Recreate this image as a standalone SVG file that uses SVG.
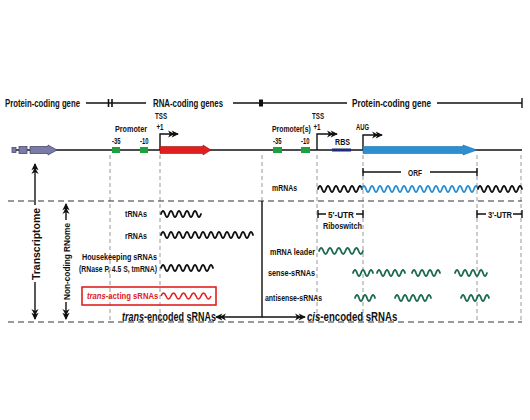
<svg xmlns="http://www.w3.org/2000/svg" width="530" height="420" viewBox="0 0 530 420">
<style>
text{font-family:"Liberation Sans Narrow","Liberation Sans",Arial,sans-serif;font-weight:bold;fill:#111}
.s{font-size:9.5px}
.t{font-size:8.5px}
.h{font-size:10.5px}
.b{font-size:12.5px}
.v{font-size:11.5px}
.ln{stroke:#111;stroke-width:1.4;fill:none}
.dv{stroke:#999;stroke-width:1;stroke-dasharray:4,3;fill:none}
.dh{stroke:#333;stroke-width:1;stroke-dasharray:6,4;fill:none}
.w{fill:none;stroke:#111;stroke-width:1.8;stroke-linecap:round}
.wb{fill:none;stroke:#2b8fd0;stroke-width:1.8}
.wg{fill:none;stroke:#1d6b4f;stroke-width:1.8;stroke-linecap:round}
.wr{fill:none;stroke:#e02020;stroke-width:1.6}
.pr{fill:#1fa040}
</style>
<defs>
<marker id="a2" viewBox="0 0 12 10" refX="11" refY="5" markerWidth="11" markerHeight="9" markerUnits="userSpaceOnUse" orient="auto-start-reverse"><path d="M0,1 L7,5 L0,9 L2,5z M4,1 L12,5 L4,9 L6,5z" fill="#111"/></marker>
</defs>

<g id="gene-level">
<text class="h" x="5" y="107" textLength="75" lengthAdjust="spacingAndGlyphs">Protein-coding gene</text>
<path class="ln" d="M86,103 H146"/>
<path d="M108.5,99 V107 M112,99 V107" stroke="#111" stroke-width="1.6"/>
<text class="h" x="153" y="107" textLength="70" lengthAdjust="spacingAndGlyphs">RNA-coding genes</text>
<path class="ln" d="M233,103 H347"/>
<rect x="259" y="99.5" width="4" height="7" fill="#111"/>
<text class="h" x="352" y="107" textLength="79" lengthAdjust="spacingAndGlyphs">Protein-coding gene</text>
<path class="ln" d="M437,103 H522 M522,98 V108"/>
</g>

<g id="guides">
<path class="dv" d="M110,155 V322 M160,155 V322 M262,155 V201 M317,155 V322 M363,155 V322 M477,155 V322 M521,155 V322"/>
<path class="dh" d="M8,201 H522 M8,322 H522"/>
</g>

<g id="dna">
<path class="ln" d="M12,150 H522"/>
<rect x="12" y="147.5" width="4" height="5" fill="#7b7ba8" stroke="#4a4a70" stroke-width="0.8"/>
<rect x="19" y="146.5" width="8" height="7" fill="#7b7ba8" stroke="#4a4a70" stroke-width="0.8"/>
<path d="M30,146.5 H48 V145 L57,150 L48,155 V153.5 H30z" fill="#7b7ba8" stroke="#4a4a70" stroke-width="0.8"/>
</g>

<g id="rna-gene">
<text class="s" x="115" y="132" textLength="32" lengthAdjust="spacingAndGlyphs">Promoter</text>
<text class="s" x="112" y="144" textLength="8.5" lengthAdjust="spacingAndGlyphs">-35</text>
<text class="s" x="140" y="144" textLength="8.5" lengthAdjust="spacingAndGlyphs">-10</text>
<rect class="pr" x="112" y="147" width="8" height="6"/>
<rect class="pr" x="140" y="147" width="8" height="6"/>
<text class="t" x="155" y="119" textLength="12" lengthAdjust="spacingAndGlyphs">TSS</text>
<text class="t" x="156.5" y="129.5" textLength="7" lengthAdjust="spacingAndGlyphs">+1</text>
<path class="ln" d="M160,150 V134 H178" stroke-width="1.6" marker-end="url(#a2)"/>
<path d="M160,146.5 H203 V145 L211,150 L203,155 V153.5 H160z" fill="#e02020" stroke="#a01010" stroke-width="0.6"/>
</g>

<g id="protein-gene">
<text class="s" transform="translate(272,132) scale(0.72,1)">Promoter(s)</text>
<text class="t" x="313.5" y="129.5" textLength="7" lengthAdjust="spacingAndGlyphs">+1</text>
<text class="t" x="312" y="118.5" textLength="12" lengthAdjust="spacingAndGlyphs">TSS</text>
<text class="s" x="273" y="144" textLength="8.5" lengthAdjust="spacingAndGlyphs">-35</text>
<text class="s" x="301" y="144" textLength="8.5" lengthAdjust="spacingAndGlyphs">-10</text>
<rect class="pr" x="273" y="147" width="9" height="6"/>
<rect class="pr" x="301" y="147" width="9" height="6"/>
<path class="ln" d="M317,150 V134 H337" stroke-width="1.6" marker-end="url(#a2)"/>
<text class="s" x="335" y="145" textLength="15" lengthAdjust="spacingAndGlyphs">RBS</text>
<rect x="332" y="148.5" width="19" height="3" fill="#1b2a7a"/>
<text class="s" x="356" y="130" textLength="13" lengthAdjust="spacingAndGlyphs">AUG</text>
<path class="ln" d="M363,150 V135 H382" stroke-width="1.6" marker-end="url(#a2)"/>
<path d="M363,146.5 H463 V145 L477,150 L463,155 V153.5 H363z" fill="#2b8fd0" stroke="#1d6fa8" stroke-width="0.6"/>
<path class="ln" d="M363,172 H401 M430,172 H477 M363,168 V176 M477,168 V176"/>
<text class="s" x="408" y="175.5" textLength="14" lengthAdjust="spacingAndGlyphs">ORF</text>
</g>

<g id="mrna">
<text class="s" x="272" y="191" textLength="25" lengthAdjust="spacingAndGlyphs">mRNAs</text>
<path class="w" d="M318,189 q2,-6 4,0 t4,0 t4,0 t4,0 t4,0 t4,0 t4,0 t4,0 t4,0 t4,0 t4,0"/>
<path class="wb" d="M362,189 q2,-6 4,0 t4,0 t4,0 t4,0 t4,0 t4,0 t4,0 t4,0 t4,0 t4,0 t4,0 t4,0 t4,0 t4,0 t4,0 t4,0 t4,0 t4,0 t4,0 t4,0 t4,0 t4,0 t4,0 t4,0 t4,0 t4,0 t4,0 t4,0 t4,0"/>
<path class="w" d="M478,189 q2,-6 4,0 t4,0 t4,0 t4,0 t4,0 t4,0 t4,0 t4,0 t4,0 t4,0 t4,0"/>
</g>

<g id="utr">
<path class="ln" d="M318,214 H326 M356,214 H363 M318,210 V218 M363,210 V218"/>
<text class="s" x="328" y="217.5" textLength="26" lengthAdjust="spacingAndGlyphs">5'-UTR</text>
<text class="s" x="323" y="229" textLength="39" lengthAdjust="spacingAndGlyphs">Riboswitch</text>
<path class="ln" d="M477,214 H486 M513,214 H522 M477,210 V218 M522,210 V218"/>
<text class="s" x="488" y="217.5" textLength="24" lengthAdjust="spacingAndGlyphs">3'-UTR</text>
</g>

<g id="cis-rows">
<text class="s" x="270" y="255" textLength="45" lengthAdjust="spacingAndGlyphs">mRNA leader</text>
<path class="wg" d="M319,251 q2.2,-6 4.4,0 t4.4,0 t4.4,0 t4.4,0 t4.4,0 t4.4,0 t4.4,0 t4.4,0 t4.4,0 t4.4,0"/>
<text class="s" x="268" y="276" textLength="47" lengthAdjust="spacingAndGlyphs">sense-sRNAs</text>
<path class="wg" d="M353,273 q2,-6 4,0 t4,0 t4,0 t4,0 t4,0 M377,273 q2,-6 4,0 t4,0 t4,0 t4,0 t4,0 t4,0 t4,0 M412,273 q2,-6 4,0 t4,0 t4,0 t4,0 t4,0 t4,0 t4,0 M455,273 q2,-6 4,0 t4,0 t4,0 t4,0 t4,0 t4,0 t4,0 t4,0"/>
<text class="s" x="265" y="301" textLength="57" lengthAdjust="spacingAndGlyphs">antisense-sRNAs</text>
<path class="wg" d="M355,298 q2,-6 4,0 t4,0 t4,0 t4,0 t4,0 M395,298 q2,-6 4,0 t4,0 t4,0 t4,0 t4,0 t4,0 t4,0 t4,0 t4,0 M461,298 q2,-6 4,0 t4,0 t4,0 t4,0 t4,0 t4,0 t4,0"/>
</g>

<g id="trans-rows">
<text class="s" x="125" y="217" textLength="22" lengthAdjust="spacingAndGlyphs">tRNAs</text>
<path class="w" d="M161,214 q2,-6 4,0 t4,0 t4,0 t4,0 t4,0 t4,0 t4,0 t4,0 t4,0 t4,0"/>
<text class="s" x="125" y="239" textLength="22" lengthAdjust="spacingAndGlyphs">rRNAs</text>
<path class="w" d="M161,235 q2,-6 4,0 t4,0 t4,0 t4,0 t4,0 t4,0 t4,0 t4,0 t4,0 t4,0 t4,0 t4,0 t4,0 t4,0 t4,0 t4,0 t4,0 t4,0 t4,0 t4,0 t4,0 t4,0 t4,0"/>
<text class="s" x="82" y="260" textLength="75" lengthAdjust="spacingAndGlyphs">Housekeeping sRNAs</text>
<text class="s" x="79" y="272" textLength="78" lengthAdjust="spacingAndGlyphs">(RNase P, 4.5 S, tmRNA)</text>
<path class="w" d="M161,268 q2,-6 4,0 t4,0 t4,0 t4,0 t4,0 t4,0 t4,0 t4,0 t4,0 t4,0 t4,0 t4,0 t4,0"/>
<rect x="82" y="287" width="134" height="18" fill="none" stroke="#e02020" stroke-width="1.6"/>
<text class="s" transform="translate(87,299) scale(0.81,1)" style="fill:#e02020"><tspan font-style="italic">trans</tspan>-acting sRNAs</text>
<path class="wr" d="M161,296 q2.5,-6 5,0 t5,0 t5,0 t5,0 t5,0 t5,0 t5,0 t5,0 t5,0 t5,0"/>
</g>

<g id="axes">
<path class="ln" d="M35,164 V205" marker-start="url(#a2)"/>
<path class="ln" d="M35,282 V319" marker-end="url(#a2)"/>
<text class="v" transform="translate(39.5,280) rotate(-90)" textLength="72" lengthAdjust="spacingAndGlyphs">Transcriptome</text>
<path class="ln" d="M66,204 V220" marker-start="url(#a2)"/>
<path class="ln" d="M66,302 V319" marker-end="url(#a2)"/>
<text class="s" transform="translate(69.5,300) rotate(-90)" textLength="77" lengthAdjust="spacingAndGlyphs">Non-coding RNome</text>
</g>

<g id="connectors">
<path class="ln" d="M262,201 V317 H216" stroke-width="1.6" marker-end="url(#a2)"/>
<path class="ln" d="M262,317 H305" stroke-width="1.6" marker-end="url(#a2)"/>
</g>

<g id="bottom-labels">
<text class="b" transform="translate(122,321) scale(0.72,1)"><tspan font-style="italic">trans</tspan>-encoded sRNAs</text>
<text class="b" transform="translate(307,321) scale(0.77,1)"><tspan font-style="italic">cis</tspan>-encoded sRNAs</text>
</g>
</svg>
